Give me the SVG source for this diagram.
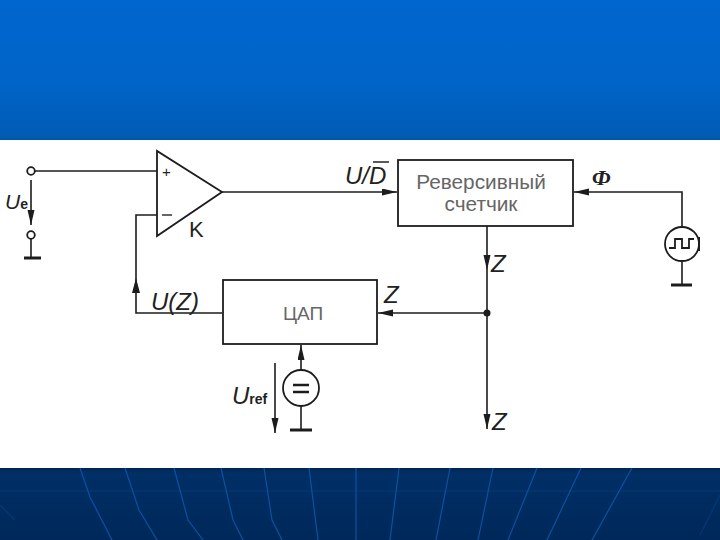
<svg xmlns="http://www.w3.org/2000/svg" width="720" height="540" viewBox="0 0 720 540">
<style>
.w{fill:none;stroke:#1c1c1c;stroke-width:1.6}
.g{fill:none;stroke:#1c1c1c;stroke-width:3}
.b{fill:#fff;stroke:#1c1c1c;stroke-width:1.8}
.bg{fill:none;stroke:#0c52a2;stroke-width:1.2}
.i{font-family:"Liberation Sans",Arial,sans-serif;font-style:italic;fill:#222;font-size:24px}
.s{font-family:"Liberation Sans",Arial,sans-serif;font-weight:bold;fill:#222;font-size:14px}
.t{font-family:"Liberation Sans",Arial,sans-serif;fill:#666;font-size:20.8px;text-anchor:middle}
</style>
<defs>
<linearGradient id="top" x1="0" y1="0" x2="0" y2="1"><stop offset="0" stop-color="#0066cf"/><stop offset="0.6" stop-color="#0064c8"/><stop offset="0.96" stop-color="#005cb6"/><stop offset="1" stop-color="#0058a8"/></linearGradient>
<linearGradient id="bot" x1="0" y1="0" x2="0" y2="1"><stop offset="0" stop-color="#00234f"/><stop offset="0.06" stop-color="#002f66"/><stop offset="1" stop-color="#00285a"/></linearGradient>
<marker id="a" markerUnits="userSpaceOnUse" markerWidth="16" markerHeight="8" refX="15" refY="3.5" orient="auto"><path d="M0 0L15 3.5L0 7Z" fill="#1c1c1c"/></marker>
</defs>
<g id="background">
<rect width="720" height="540" fill="#fff"/>
<rect width="720" height="140" fill="url(#top)"/>
<rect y="468" width="720" height="72" fill="url(#bot)"/>
<path class="bg" d="M80 468L90 497L112 540M125 468L139 510L157 540M174 468L188 520L203 540M221 468L233 520L243 540M264 468L272 520L282 540M309 468L318 540M356 468L356 540M399 468L390 540M450 468L436 540M493 468L478 540M537 468L508 540M581 468L547 540M632 468L592 540"/>
<path class="bg" stroke-opacity="0.35" d="M0 491H720M0 505L15 520M720 495L700 535"/>
</g>
<g id="connectors">
<path class="w" d="M35 171H157"/>
<path class="w" d="M222 192H397" marker-end="url(#a)"/>
<path class="w" d="M31 180V225" marker-end="url(#a)"/>
<path class="w" d="M31 239V258"/>
<path class="w" d="M222 313H136V215H157"/>
<path d="M132 293L136 278L140 293Z" fill="#1c1c1c"/>
<path class="w" d="M487 226V270" marker-end="url(#a)"/>
<path class="w" d="M487 270V429" marker-end="url(#a)"/>
<path class="w" d="M487 313H378" marker-end="url(#a)"/>
<path class="w" d="M682 227V192H574" marker-end="url(#a)"/>
<path class="w" d="M682 261V285"/>
<path class="w" d="M301 370V345" marker-end="url(#a)"/>
<path class="w" d="M301 406V430"/>
<path class="w" d="M275 363V433" marker-end="url(#a)"/>
</g>
<g id="terminal-in"><circle class="b" cx="31" cy="171" r="3.8"/></g>
<g id="terminal-gnd"><circle class="b" cx="31" cy="235" r="3.8"/><path class="g" d="M24 258H41"/></g>
<g id="comparator">
<path class="b" d="M157 151V236L222 192Z"/>
<text x="162" y="177" font-family="Liberation Sans,sans-serif" font-size="15" fill="#222">+</text>
<path d="M162 215H172" stroke="#333" stroke-width="1.5"/>
<text x="189" y="237" font-family="Liberation Sans,sans-serif" font-size="22" fill="#222">K</text>
</g>
<g id="counter"><rect class="b" x="398" y="160" width="175" height="66"/><text class="t" x="481" y="189">Реверсивный</text><text class="t" x="481" y="211">счетчик</text></g>
<g id="dac"><rect class="b" x="223" y="280" width="154" height="64"/><text class="t" x="303" y="320" style="font-size:19px">ЦАП</text></g>
<g id="reference"><circle class="b" cx="301" cy="388" r="18"/><path d="M293 385H309M293 392H309" stroke="#1c1c1c" stroke-width="2.6"/><path class="g" d="M290 430H312"/></g>
<g id="clock"><circle class="b" cx="682" cy="244" r="17"/><path d="M669 248H675V239H682V248H689V239H694" fill="none" stroke="#1c1c1c" stroke-width="1.8"/><path d="M699 237V251" stroke="#1c1c1c" stroke-width="2"/><path class="g" d="M671 285H692"/></g>
<g id="junction"><circle cx="487" cy="313" r="3.5" fill="#1c1c1c"/></g>
<g id="labels">
<text class="i" x="5" y="209" style="font-size:21px">U<tspan class="s" font-style="normal" font-size="15">e</tspan></text>
<text class="i" x="151" y="310">U(Z)</text>
<text class="i" x="345" y="184">U/D</text>
<path d="M373 162H389" stroke="#222" stroke-width="1.5"/>
<text class="i" x="232" y="404">U<tspan class="s" font-style="normal">ref</tspan></text>
<text class="i" x="592" y="185" style="font-family:'Liberation Serif',serif;font-weight:bold;font-size:22px">Ф</text>
<text class="i" x="491" y="272">Z</text>
<text class="i" x="384" y="303">Z</text>
<text class="i" x="492" y="430">Z</text>
</g>
</svg>
